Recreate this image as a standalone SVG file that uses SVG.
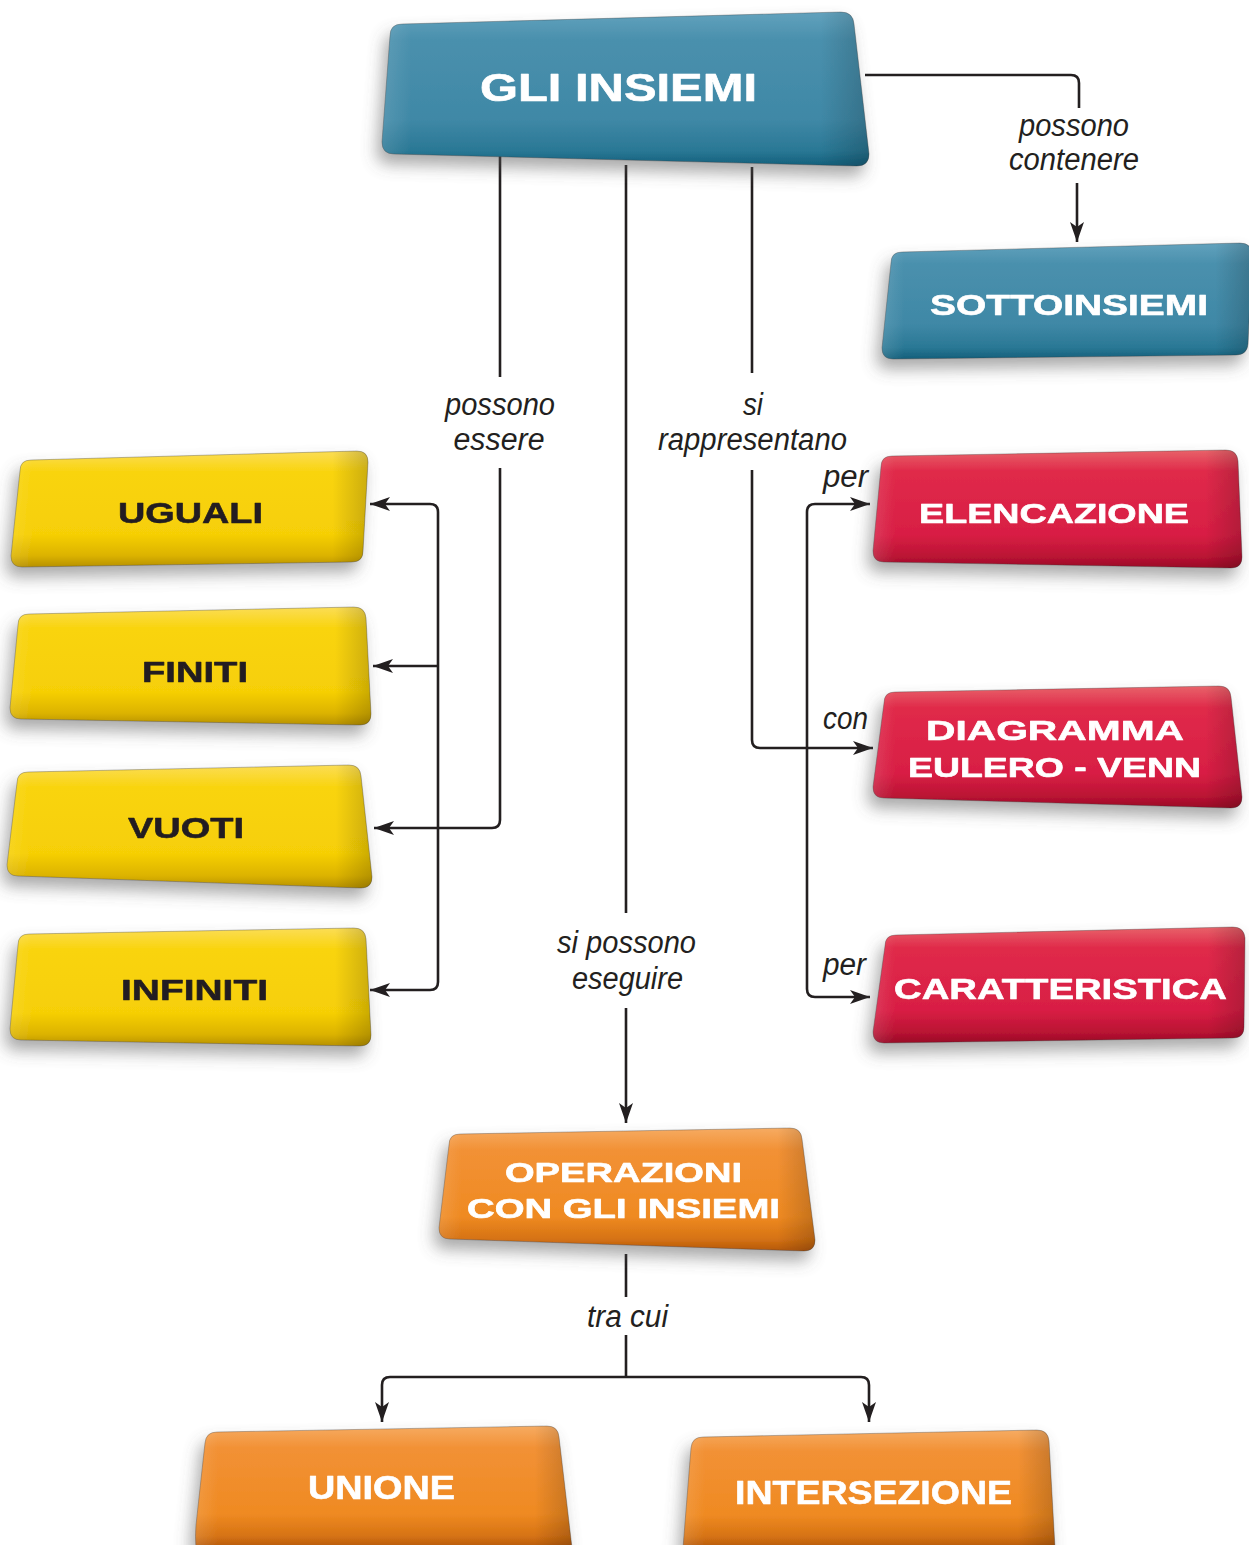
<svg xmlns="http://www.w3.org/2000/svg" width="1249" height="1545" viewBox="0 0 1249 1545">
  <style>
    .node-label { font-family: "Liberation Sans", Arial, sans-serif; font-weight: bold; text-anchor: middle; stroke-width: 0.6; stroke-linejoin: round; }
    .light { fill: #ffffff; stroke: #ffffff; }
    .dark { fill: #231f20; stroke: #231f20; }
    .link-label { font-family: "Liberation Sans", Arial, sans-serif; font-style: italic; font-size: 31px; fill: #231f20; text-anchor: middle; }
    .wire { fill: none; stroke: #231f20; stroke-width: 2.6; }
    .box { stroke: rgba(60,60,60,0.35); stroke-width: 1; }
    .edge { fill: url(#sideShade); }
  </style>
  <defs>
    <marker id="arrow" markerUnits="userSpaceOnUse" markerWidth="22" markerHeight="16" viewBox="0 0 22 16" refX="20" refY="8" orient="auto">
      <path d="M0,1 L20,8 L0,15 L5,8 Z" fill="#231f20"/>
    </marker>
    <filter id="shadow" x="-20%" y="-30%" width="140%" height="170%">
      <feGaussianBlur in="SourceAlpha" stdDeviation="8"/>
      <feOffset dx="-5" dy="10" result="b"/>
      <feFlood flood-color="#555" flood-opacity="0.5"/>
      <feComposite in2="b" operator="in"/>
      <feMerge><feMergeNode/><feMergeNode in="SourceGraphic"/></feMerge>
    </filter>
    <linearGradient id="teal" x1="0" y1="0" x2="0" y2="1">
      <stop offset="0" stop-color="#62a2bd"/>
      <stop offset="0.18" stop-color="#4a90ad"/>
      <stop offset="0.7" stop-color="#3f88a6"/>
      <stop offset="0.9" stop-color="#2a7895"/>
      <stop offset="1" stop-color="#135f7b"/>
    </linearGradient>
    <linearGradient id="yellow" x1="0" y1="0" x2="0" y2="1">
      <stop offset="0" stop-color="#fbdd55"/>
      <stop offset="0.18" stop-color="#f9d40e"/>
      <stop offset="0.72" stop-color="#f6cf06"/>
      <stop offset="0.9" stop-color="#dcb300"/>
      <stop offset="1" stop-color="#b79100"/>
    </linearGradient>
    <linearGradient id="red" x1="0" y1="0" x2="0" y2="1">
      <stop offset="0" stop-color="#e8636a"/>
      <stop offset="0.18" stop-color="#e02a4a"/>
      <stop offset="0.72" stop-color="#d81e44"/>
      <stop offset="0.9" stop-color="#bb1434"/>
      <stop offset="1" stop-color="#990826"/>
    </linearGradient>
    <linearGradient id="orange" x1="0" y1="0" x2="0" y2="1">
      <stop offset="0" stop-color="#f6ab62"/>
      <stop offset="0.18" stop-color="#f29135"/>
      <stop offset="0.72" stop-color="#ef8a22"/>
      <stop offset="0.9" stop-color="#d67314"/>
      <stop offset="1" stop-color="#b4580b"/>
    </linearGradient>
    <linearGradient id="sideShade" x1="0" y1="0" x2="1" y2="0">
      <stop offset="0" stop-color="#ffffff" stop-opacity="0.12"/>
      <stop offset="0.06" stop-color="#ffffff" stop-opacity="0"/>
      <stop offset="0.9" stop-color="#000000" stop-opacity="0"/>
      <stop offset="1" stop-color="#000000" stop-opacity="0.18"/>
    </linearGradient>
  </defs>

  <rect width="1249" height="1545" fill="#ffffff"/>

  <!-- connectors -->
  <g id="connectors">
    <!-- GLI INSIEMI to SOTTOINSIEMI -->
    <path class="wire" d="M865,75 H1071 Q1079,75 1079,83 V108"/>
    <path class="wire" d="M1077,183 V242" marker-end="url(#arrow)"/>
    <!-- possono essere -->
    <path class="wire" d="M500,155 V377"/>
    <path class="wire" d="M500,468 V820 Q500,828 492,828 H374" marker-end="url(#arrow)"/>
    <path class="wire" d="M438,666 V512 Q438,504 430,504 H370" marker-end="url(#arrow)"/>
    <path class="wire" d="M438,666 H373" marker-end="url(#arrow)"/>
    <path class="wire" d="M438,666 V982 Q438,990 430,990 H370" marker-end="url(#arrow)"/>
    <!-- si possono eseguire -->
    <path class="wire" d="M626,165 V913"/>
    <path class="wire" d="M626,1008 V1123" marker-end="url(#arrow)"/>
    <!-- si rappresentano -->
    <path class="wire" d="M752,167 V373"/>
    <path class="wire" d="M752,470 V740 Q752,748 760,748 H873" marker-end="url(#arrow)"/>
    <path class="wire" d="M807,748 V512 Q807,504 815,504 H870" marker-end="url(#arrow)"/>
    <path class="wire" d="M807,748 V989 Q807,997 815,997 H870" marker-end="url(#arrow)"/>
    <!-- tra cui -->
    <path class="wire" d="M626,1254 V1297"/>
    <path class="wire" d="M626,1335 V1377"/>
    <path class="wire" d="M626,1377 H390 Q382,1377 382,1385 V1422" marker-end="url(#arrow)"/>
    <path class="wire" d="M626,1377 H861 Q869,1377 869,1385 V1422" marker-end="url(#arrow)"/>

    <text class="link-label" x="1074" y="136" textLength="110" lengthAdjust="spacingAndGlyphs">possono</text>
    <text class="link-label" x="1074" y="170" textLength="130" lengthAdjust="spacingAndGlyphs">contenere</text>
    <text class="link-label" x="500" y="415" textLength="110" lengthAdjust="spacingAndGlyphs">possono</text>
    <text class="link-label" x="499" y="450" textLength="91" lengthAdjust="spacingAndGlyphs">essere</text>
    <text class="link-label" x="753" y="415" textLength="20" lengthAdjust="spacingAndGlyphs">si</text>
    <text class="link-label" x="752.5" y="450" textLength="189" lengthAdjust="spacingAndGlyphs">rappresentano</text>
    <text class="link-label" x="845.5" y="487" textLength="45" lengthAdjust="spacingAndGlyphs">per</text>
    <text class="link-label" x="845.5" y="729" textLength="45" lengthAdjust="spacingAndGlyphs">con</text>
    <text class="link-label" x="844.5" y="975" textLength="43" lengthAdjust="spacingAndGlyphs">per</text>
    <text class="link-label" x="626.5" y="953" textLength="139" lengthAdjust="spacingAndGlyphs">si possono</text>
    <text class="link-label" x="627.5" y="989" textLength="111" lengthAdjust="spacingAndGlyphs">eseguire</text>
    <text class="link-label" x="627.5" y="1327" textLength="81" lengthAdjust="spacingAndGlyphs">tra cui</text>
  </g>

  <!-- teal nodes -->
  <g id="gli-insiemi" filter="url(#shadow)">
    <path class="box" fill="url(#teal)" d="M390,36 Q390,24 402,24 L841,12 Q853,12 854,24 L869,154 Q869,166 857,166 L394,154 Q382,154 382,142 Z"/>
    <path class="edge" d="M390,36 Q390,24 402,24 L841,12 Q853,12 854,24 L869,154 Q869,166 857,166 L394,154 Q382,154 382,142 Z"/>
    <text class="node-label light" x="618.5" y="101" font-size="38" textLength="277" lengthAdjust="spacingAndGlyphs">GLI INSIEMI</text>
  </g>
  <g id="sottoinsiemi" filter="url(#shadow)">
    <path class="box" fill="url(#teal)" d="M891,263 Q891,252 902,252 L1240,243 Q1252,243 1252,255 L1248,344 Q1247,355 1236,355 L893,359 Q882,359 882,348 Z"/>
    <path class="edge" d="M891,263 Q891,252 902,252 L1240,243 Q1252,243 1252,255 L1248,344 Q1247,355 1236,355 L893,359 Q882,359 882,348 Z"/>
    <text class="node-label light" x="1069" y="315" font-size="30" textLength="278" lengthAdjust="spacingAndGlyphs">SOTTOINSIEMI</text>
  </g>

  <!-- yellow nodes -->
  <g id="uguali" filter="url(#shadow)">
    <path class="box" fill="url(#yellow)" d="M20,471 Q20,460 31,460 L357,451 Q368,451 368,462 L363,551 Q363,562 352,562 L22,567 Q11,567 11,556 Z"/>
    <path class="edge" d="M20,471 Q20,460 31,460 L357,451 Q368,451 368,462 L363,551 Q363,562 352,562 L22,567 Q11,567 11,556 Z"/>
    <text class="node-label dark" x="190.5" y="523" font-size="30" textLength="145" lengthAdjust="spacingAndGlyphs">UGUALI</text>
  </g>
  <g id="finiti" filter="url(#shadow)">
    <path class="box" fill="url(#yellow)" d="M18,625 Q18,614 29,614 L354,607 Q365,607 366,618 L371,714 Q371,725 360,725 L21,719 Q10,719 10,708 Z"/>
    <path class="edge" d="M18,625 Q18,614 29,614 L354,607 Q365,607 366,618 L371,714 Q371,725 360,725 L21,719 Q10,719 10,708 Z"/>
    <text class="node-label dark" x="195" y="682" font-size="30" textLength="106" lengthAdjust="spacingAndGlyphs">FINITI</text>
  </g>
  <g id="vuoti" filter="url(#shadow)">
    <path class="box" fill="url(#yellow)" d="M17,783 Q17,772 28,772 L349,765 Q360,765 361,776 L372,877 Q372,888 361,888 L18,876 Q7,876 7,865 Z"/>
    <path class="edge" d="M17,783 Q17,772 28,772 L349,765 Q360,765 361,776 L372,877 Q372,888 361,888 L18,876 Q7,876 7,865 Z"/>
    <text class="node-label dark" x="186" y="838" font-size="30" textLength="116" lengthAdjust="spacingAndGlyphs">VUOTI</text>
  </g>
  <g id="infiniti" filter="url(#shadow)">
    <path class="box" fill="url(#yellow)" d="M18,945 Q18,934 29,934 L354,928 Q365,928 366,939 L371,1035 Q371,1046 360,1046 L21,1040 Q10,1040 10,1029 Z"/>
    <path class="edge" d="M18,945 Q18,934 29,934 L354,928 Q365,928 366,939 L371,1035 Q371,1046 360,1046 L21,1040 Q10,1040 10,1029 Z"/>
    <text class="node-label dark" x="194.5" y="1000" font-size="30" textLength="147" lengthAdjust="spacingAndGlyphs">INFINITI</text>
  </g>

  <!-- red nodes -->
  <g id="elencazione" filter="url(#shadow)">
    <path class="box" fill="url(#red)" d="M881,467 Q881,456 892,456 L1226,450 Q1237,450 1238,461 L1242,557 Q1242,568 1231,568 L884,562 Q873,562 873,551 Z"/>
    <path class="edge" d="M881,467 Q881,456 892,456 L1226,450 Q1237,450 1238,461 L1242,557 Q1242,568 1231,568 L884,562 Q873,562 873,551 Z"/>
    <text class="node-label light" x="1054" y="523" font-size="28" textLength="270" lengthAdjust="spacingAndGlyphs">ELENCAZIONE</text>
  </g>
  <g id="diagramma" filter="url(#shadow)">
    <path class="box" fill="url(#red)" d="M884,703 Q884,692 895,692 L1219,686 Q1230,686 1231,697 L1242,797 Q1242,808 1231,808 L884,798 Q873,798 873,787 Z"/>
    <path class="edge" d="M884,703 Q884,692 895,692 L1219,686 Q1230,686 1231,697 L1242,797 Q1242,808 1231,808 L884,798 Q873,798 873,787 Z"/>
    <text class="node-label light" x="1055" y="740" font-size="28" textLength="258" lengthAdjust="spacingAndGlyphs">DIAGRAMMA</text>
    <text class="node-label light" x="1054.5" y="777" font-size="28" textLength="293" lengthAdjust="spacingAndGlyphs">EULERO - VENN</text>
  </g>
  <g id="caratteristica" filter="url(#shadow)">
    <path class="box" fill="url(#red)" d="M885,946 Q885,935 896,935 L1233,927 Q1244,927 1245,938 L1244,1027 Q1244,1038 1233,1038 L884,1043 Q873,1043 873,1032 Z"/>
    <path class="edge" d="M885,946 Q885,935 896,935 L1233,927 Q1244,927 1245,938 L1244,1027 Q1244,1038 1233,1038 L884,1043 Q873,1043 873,1032 Z"/>
    <text class="node-label light" x="1060.5" y="999" font-size="29" textLength="333" lengthAdjust="spacingAndGlyphs">CARATTERISTICA</text>
  </g>

  <!-- orange nodes -->
  <g id="operazioni" filter="url(#shadow)">
    <path class="box" fill="url(#orange)" d="M449,1145 Q449,1134 460,1134 L790,1128 Q801,1128 802,1139 L815,1240 Q815,1251 804,1251 L450,1239 Q439,1239 439,1228 Z"/>
    <path class="edge" d="M449,1145 Q449,1134 460,1134 L790,1128 Q801,1128 802,1139 L815,1240 Q815,1251 804,1251 L450,1239 Q439,1239 439,1228 Z"/>
    <text class="node-label light" x="623.5" y="1182" font-size="27" textLength="237" lengthAdjust="spacingAndGlyphs">OPERAZIONI</text>
    <text class="node-label light" x="623.5" y="1218" font-size="27" textLength="313" lengthAdjust="spacingAndGlyphs">CON GLI INSIEMI</text>
  </g>
  <g id="unione" filter="url(#shadow)">
    <path class="box" fill="url(#orange)" d="M205,1443 Q206,1432 217,1432 L547,1426 Q558,1426 559,1437 L572,1548 L196,1548 Q195,1536 196,1525 Z"/>
    <path class="edge" d="M205,1443 Q206,1432 217,1432 L547,1426 Q558,1426 559,1437 L572,1548 L196,1548 Q195,1536 196,1525 Z"/>
    <text class="node-label light" x="381.5" y="1499" font-size="33" textLength="147" lengthAdjust="spacingAndGlyphs">UNIONE</text>
  </g>
  <g id="intersezione" filter="url(#shadow)">
    <path class="box" fill="url(#orange)" d="M691,1448 Q692,1437 703,1437 L1037,1430 Q1048,1430 1049,1441 L1055,1548 L683,1548 Z"/>
    <path class="edge" d="M691,1448 Q692,1437 703,1437 L1037,1430 Q1048,1430 1049,1441 L1055,1548 L683,1548 Z"/>
    <text class="node-label light" x="873.5" y="1504" font-size="33" textLength="277" lengthAdjust="spacingAndGlyphs">INTERSEZIONE</text>
  </g>
</svg>
